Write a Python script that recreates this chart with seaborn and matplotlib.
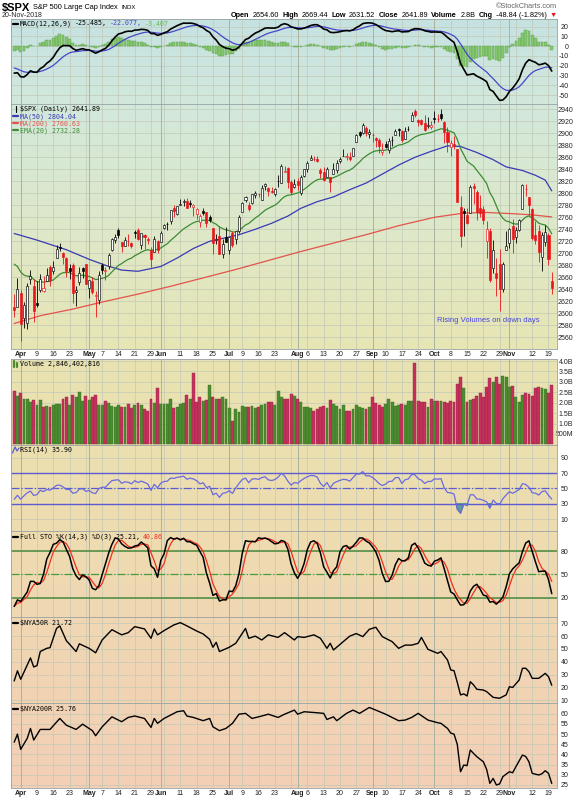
import numpy as np
import pandas as pd
import matplotlib
matplotlib.use("Agg")
import matplotlib.pyplot as plt
from matplotlib.colors import to_rgb
from matplotlib.lines import Line2D
import seaborn as sns

# ---------------- data: $SPX daily, 28-Mar-2018 .. 20-Nov-2018 ----------------
holidays = ["2018-03-30", "2018-05-28", "2018-07-04", "2018-09-03"]
days = pd.bdate_range("2018-03-28", "2018-11-20")
days = days[~days.isin(pd.to_datetime(holidays))]

opens = [
    2611.30, 2610.79,
    2633.45, 2592.17, 2584.04, 2657.36, 2645.82, 2617.18, 2638.41, 2636.92, 2653.83, 2676.90,
    2670.10, 2692.74, 2710.11, 2701.16, 2692.56, 2675.40, 2680.80, 2634.92, 2651.65, 2675.47, 2682.51,
    2642.96, 2654.24, 2628.08, 2621.45, 2680.34, 2670.26, 2678.12, 2705.02, 2722.70, 2738.47, 2718.59,
    2712.62, 2719.71, 2717.35, 2735.39, 2738.34, 2713.98, 2730.94, 2723.60, 2705.11, 2702.43, 2720.98,
    2718.70, 2741.67, 2748.46, 2753.25, 2774.84, 2765.84, 2780.18, 2785.60, 2787.94, 2783.21, 2777.78,
    2765.79, 2752.01, 2769.73, 2769.28, 2760.79, 2742.94, 2722.12, 2728.45, 2698.69, 2727.13,
    2704.95, 2733.27, 2724.19, 2737.68, 2768.51, 2788.56, 2779.82, 2783.14, 2796.93, 2798.96, 2789.34,
    2811.35, 2809.37, 2804.55, 2799.17, 2820.68, 2817.73, 2835.49, 2842.35, 2819.00, 2809.73,
    2821.17, 2800.48, 2829.62, 2840.29, 2855.92, 2856.79, 2857.19, 2838.90, 2835.46, 2827.88, 2827.95,
    2831.44, 2838.32, 2853.93, 2861.51, 2860.99, 2860.29, 2862.35, 2884.69, 2901.45, 2900.62, 2908.94, 2898.37,
    2896.96, 2891.59, 2888.64, 2868.26, 2881.39, 2871.57, 2888.29, 2896.85, 2906.38, 2903.83, 2890.74,
    2906.60, 2919.73, 2936.76, 2921.83, 2921.75, 2916.98, 2911.65, 2910.03,
    2926.29, 2923.80, 2931.69, 2919.35, 2902.54, 2877.53, 2882.51, 2873.90, 2776.87, 2770.54, 2763.83,
    2767.05, 2811.67, 2802.00, 2775.66, 2773.94, 2721.03, 2737.87, 2674.88, 2667.86, 2682.65, 2640.68, 2705.60,
    2717.58, 2745.45, 2726.37, 2738.40, 2774.13, 2806.38, 2794.10, 2773.93, 2730.05, 2737.90, 2693.52,
    2718.54, 2730.74, 2654.60,
]
highs = [
    2632.65, 2659.07,
    2638.30, 2619.14, 2649.86, 2672.08, 2656.88, 2653.55, 2665.45, 2661.36, 2674.72, 2680.26,
    2686.49, 2713.34, 2717.49, 2702.84, 2693.94, 2682.86, 2683.55, 2645.30, 2676.48, 2677.35, 2682.87,
    2655.27, 2660.87, 2637.14, 2670.93, 2683.35, 2676.34, 2701.27, 2726.11, 2732.86, 2742.10, 2718.59,
    2727.76, 2731.96, 2719.50, 2739.19, 2742.24, 2733.33, 2731.97, 2727.36, 2710.67, 2729.34, 2722.50,
    2736.93, 2749.16, 2752.61, 2772.39, 2779.90, 2779.39, 2790.21, 2789.80, 2791.47, 2789.06, 2782.81,
    2774.99, 2765.05, 2774.86, 2769.28, 2764.17, 2742.94, 2732.91, 2746.09, 2724.34, 2743.26,
    2727.26, 2736.58, 2737.83, 2764.41, 2784.65, 2795.58, 2785.91, 2799.22, 2804.53, 2801.18, 2814.19,
    2816.76, 2810.47, 2809.70, 2808.61, 2829.99, 2848.03, 2845.57, 2843.17, 2821.74, 2824.46,
    2825.83, 2829.91, 2840.38, 2853.29, 2863.43, 2862.44, 2862.48, 2842.20, 2843.40, 2843.11, 2827.95,
    2850.49, 2855.63, 2859.76, 2873.23, 2867.54, 2868.78, 2876.16, 2898.25, 2903.77, 2916.50, 2912.46, 2906.32,
    2900.18, 2894.21, 2892.05, 2883.81, 2886.93, 2892.52, 2894.65, 2906.76, 2908.30, 2904.65, 2911.17,
    2912.36, 2934.80, 2940.91, 2923.79, 2923.95, 2931.15, 2927.22, 2920.53,
    2937.06, 2931.42, 2939.86, 2919.78, 2909.64, 2889.45, 2894.83, 2874.02, 2795.14, 2775.77, 2775.99,
    2813.46, 2816.94, 2806.04, 2797.77, 2778.94, 2753.59, 2742.59, 2722.70, 2692.38, 2706.85, 2685.43, 2736.69,
    2741.67, 2756.55, 2744.27, 2756.82, 2815.15, 2814.75, 2794.10, 2775.99, 2754.60, 2746.80, 2735.38,
    2746.75, 2733.16, 2669.44,
]
lows = [
    2593.06, 2609.72,
    2553.80, 2575.49, 2573.61, 2649.58, 2586.27, 2610.79, 2635.78, 2635.30, 2653.83, 2645.05,
    2665.16, 2692.05, 2703.63, 2681.90, 2660.61, 2657.99, 2617.32, 2612.67, 2647.16, 2659.01, 2648.04,
    2625.41, 2631.70, 2594.62, 2615.32, 2664.70, 2655.20, 2674.14, 2704.54, 2717.45, 2725.47, 2701.91,
    2712.17, 2711.36, 2709.18, 2725.70, 2721.88, 2707.98, 2707.38, 2714.99, 2676.81, 2702.43, 2700.68,
    2718.70, 2740.54, 2739.51, 2748.46, 2760.16, 2763.59, 2780.17, 2778.78, 2774.65, 2776.52, 2761.73,
    2757.12, 2743.19, 2763.91, 2744.39, 2752.68, 2698.67, 2715.60, 2699.38, 2691.99, 2718.03,
    2698.95, 2711.16, 2716.02, 2733.52, 2768.51, 2786.24, 2770.77, 2781.53, 2791.69, 2793.39, 2789.24,
    2805.89, 2795.84, 2800.01, 2795.14, 2811.12, 2817.73, 2835.26, 2808.34, 2798.11, 2808.06,
    2805.85, 2796.34, 2827.37, 2835.98, 2855.92, 2853.09, 2851.98, 2825.81, 2819.88, 2826.58, 2802.49,
    2831.44, 2833.73, 2850.62, 2861.32, 2856.05, 2854.03, 2862.35, 2884.69, 2893.50, 2898.40, 2895.22, 2891.73,
    2885.13, 2876.92, 2867.29, 2864.12, 2875.94, 2866.78, 2879.20, 2896.39, 2895.77, 2886.16, 2890.43,
    2903.82, 2919.73, 2927.11, 2912.63, 2913.70, 2903.28, 2909.27, 2907.50,
    2917.91, 2919.37, 2921.36, 2883.92, 2869.29, 2862.08, 2874.27, 2784.86, 2710.51, 2729.44, 2749.03,
    2766.91, 2781.81, 2755.18, 2760.27, 2749.22, 2691.43, 2651.89, 2667.84, 2628.16, 2603.54, 2635.34, 2705.60,
    2708.85, 2700.44, 2717.94, 2737.08, 2774.13, 2794.99, 2764.24, 2722.00, 2714.98, 2685.75, 2670.75,
    2712.16, 2681.09, 2631.52,
]
closes = [
    2605.00, 2640.87,
    2581.88, 2614.45, 2644.69, 2662.84, 2604.47, 2613.16, 2656.87, 2642.19, 2663.99, 2656.30,
    2677.84, 2706.39, 2708.64, 2693.13, 2670.14, 2670.29, 2634.56, 2639.40, 2666.94, 2669.91, 2648.05,
    2654.80, 2635.67, 2629.73, 2663.42, 2672.63, 2671.92, 2697.79, 2723.07, 2727.72, 2730.13, 2711.45,
    2722.46, 2720.13, 2712.97, 2733.01, 2724.44, 2733.29, 2727.76, 2721.33, 2689.86, 2724.01, 2705.27,
    2734.62, 2746.87, 2748.80, 2772.35, 2770.37, 2779.03, 2782.00, 2786.85, 2775.63, 2782.49, 2779.66,
    2773.75, 2762.59, 2767.32, 2749.76, 2754.88, 2717.07, 2723.06, 2699.63, 2716.31, 2718.37,
    2726.71, 2713.22, 2736.61, 2759.82, 2784.17, 2793.84, 2774.02, 2798.29, 2801.31, 2798.43, 2809.55,
    2815.62, 2804.49, 2801.83, 2806.98, 2820.40, 2846.07, 2837.44, 2818.82, 2802.60, 2816.29,
    2813.36, 2827.22, 2840.35, 2850.40, 2858.45, 2857.70, 2853.58, 2833.28, 2821.93, 2839.96, 2818.37,
    2840.69, 2850.13, 2857.05, 2862.96, 2861.82, 2856.98, 2874.69, 2896.74, 2897.52, 2914.04, 2901.13, 2901.52,
    2896.72, 2888.60, 2878.05, 2871.68, 2877.13, 2887.89, 2888.92, 2904.18, 2904.98, 2888.80, 2904.31,
    2907.95, 2930.75, 2929.67, 2919.37, 2915.56, 2905.97, 2914.00, 2913.98,
    2924.59, 2923.43, 2925.51, 2901.61, 2885.57, 2884.43, 2880.34, 2785.68, 2728.37, 2767.13, 2750.79,
    2809.92, 2809.21, 2768.78, 2767.78, 2755.88, 2740.69, 2656.10, 2705.57, 2658.69, 2641.25, 2682.63, 2711.74,
    2740.37, 2723.06, 2738.31, 2755.45, 2813.89, 2806.83, 2781.01, 2726.22, 2722.18, 2701.58, 2730.20,
    2736.27, 2690.73, 2641.89,
]
# volume in billions of shares
volume_b = [
    2.56, 2.34,
    2.45, 2.20, 2.20, 2.05, 2.13, 1.89, 2.13, 1.78, 1.86, 1.81, 1.89, 1.94, 1.94, 2.20, 2.29, 1.89,
    2.37, 2.26, 2.53, 2.10, 2.32,
    2.13, 2.26, 2.37, 1.89, 1.89, 2.08, 1.97, 1.84, 1.78, 1.89, 1.81, 1.78, 1.92, 1.73, 1.89, 1.97,
    1.89, 1.68, 1.60, 2.20, 1.97, 2.69,
    1.94, 1.94, 1.94, 2.20, 1.73, 1.81, 1.94, 1.97, 2.37, 2.20, 3.41, 2.05, 2.26, 2.10, 2.13, 2.83,
    2.29, 2.20, 2.16, 2.26, 2.20,
    1.73, 1.12, 1.68, 1.57, 1.84, 1.81, 1.81, 1.84, 1.73, 1.81, 1.89, 1.94, 2.05, 2.05, 1.90, 2.56,
    2.29, 2.20, 2.16, 2.40, 2.30,
    2.20, 2.05, 1.80, 1.78, 1.75, 1.60, 1.68, 1.79, 1.84, 1.73, 2.13, 1.92, 1.84, 1.68, 1.89, 1.60,
    1.62, 1.68, 1.87, 1.78, 1.73, 1.68, 1.78,
    2.26, 2.00, 1.87, 1.81, 1.94, 2.16, 2.05, 1.84, 1.87, 1.94, 1.89, 2.08, 2.10, 3.89, 2.10, 2.03,
    2.03, 1.81, 2.19,
    2.10, 2.06, 2.10, 2.03, 2.00, 2.10, 2.05, 2.90, 3.25, 2.69, 2.05, 2.13, 2.16, 2.32, 2.45, 2.29,
    2.77, 3.17, 3.00, 3.25, 2.88, 3.28, 3.22,
    2.74, 2.80, 2.26, 2.05, 2.37, 2.48, 2.42, 2.34, 2.69, 2.74, 2.69, 2.64, 2.48, 2.85,
]

# the 13 sessions before the first bar (9..27 Mar), only as lookback for the 14-day stochastic
prior_highs = [2786.57, 2796.98, 2801.90, 2777.11, 2763.03, 2761.85, 2741.38, 2724.22, 2739.14,
               2695.68, 2657.67, 2665.28, 2674.78]
prior_lows = [2751.54, 2779.26, 2758.68, 2744.38, 2741.47, 2749.97, 2694.59, 2710.05, 2709.79,
              2641.59, 2585.89, 2601.81, 2596.12]
PRIOR_CLOSE = 2612.62
# running-average states at the left edge of the panels
EMA20_START = 2690.0
EMA12_START, EMA26_START, SIGNAL_START = 2672.0, 2696.0, -21.0
RSI_GAIN_START, RSI_LOSS_START = 12.0, 21.0

ma50_dates = ["03-28", "04-09", "04-20", "05-01", "05-08", "05-15", "05-22", "06-01", "06-08", "06-15",
              "06-22", "06-29", "07-06", "07-13", "07-20", "07-27", "08-02", "08-09", "08-16", "08-23",
              "08-30", "09-07", "09-14", "09-21", "09-28", "10-05", "10-11", "10-18", "10-25", "10-31",
              "11-07", "11-13", "11-16", "11-20"]
ma50_vals = [2733, 2722, 2706, 2690, 2680, 2672, 2670, 2678, 2692, 2708,
             2720, 2726, 2731, 2740, 2750, 2762, 2775, 2786, 2794, 2806,
             2817, 2832, 2847, 2860, 2870, 2879, 2878, 2868, 2856, 2844,
             2838, 2830, 2822, 2804.04]
ma200_dates = ["03-28", "04-10", "04-24", "05-08", "05-22", "06-06", "06-20", "07-05", "07-19", "08-02",
               "08-16", "08-30", "09-14", "10-01", "10-12", "10-23", "11-02", "11-12", "11-20"]
ma200_vals = [2583, 2596, 2607, 2620, 2632, 2645, 2659, 2673, 2688, 2703,
              2717, 2731, 2746, 2760, 2767, 2768, 2766, 2764, 2760.63]

nya50_dates = ["03-28", "03-29", "04-02", "04-05", "04-06", "04-09", "04-10", "04-12", "04-13", "04-17",
               "04-18", "04-20", "04-25", "04-26", "05-01", "05-03", "05-07", "05-10", "05-15", "05-17",
               "05-21", "05-24", "05-29", "05-30", "05-31", "06-04", "06-07", "06-11", "06-13", "06-18",
               "06-20", "06-22", "06-25", "06-26", "06-27", "07-02", "07-05", "07-10", "07-11", "07-13",
               "07-17", "07-19", "07-24", "07-26", "07-31", "08-01", "08-03", "08-08", "08-10", "08-14",
               "08-15", "08-16", "08-21", "08-23", "08-27", "08-29", "08-31", "09-05", "09-07", "09-12",
               "09-14", "09-18", "09-20", "09-24", "09-25", "09-27", "10-02", "10-03", "10-05", "10-08",
               "10-09", "10-10", "10-11", "10-12", "10-15", "10-16", "10-17", "10-18", "10-22", "10-23",
               "10-25", "10-29", "10-31", "11-01", "11-02", "11-06", "11-07", "11-08", "11-09", "11-12",
               "11-14", "11-16", "11-19", "11-20"]
nya50_vals = [25.1, 33.0, 26.4, 43.0, 36.0, 37.0, 48.0, 50.5, 51.0, 66.0,
              68.0, 56.5, 48.0, 54.0, 50.5, 47.0, 57.0, 65.0, 61.0, 62.7,
              67.4, 65.6, 58.3, 65.6, 61.0, 64.3, 68.7, 70.5, 68.0, 64.0,
              61.7, 57.5, 51.3, 55.2, 48.0, 51.3, 54.4, 66.0, 58.3, 60.0,
              57.0, 61.0, 59.0, 62.7, 57.0, 59.6, 59.0, 61.0, 58.3, 50.5,
              54.4, 49.2, 55.7, 60.0, 62.0, 59.6, 65.3, 66.9, 59.6, 55.7,
              50.5, 53.0, 53.0, 54.4, 59.0, 49.7, 46.6, 48.0, 41.4, 33.6,
              33.1, 24.0, 14.2, 15.0, 13.4, 24.5, 22.0, 18.6, 18.0, 16.8,
              12.3, 11.6, 14.2, 20.6, 20.0, 25.8, 34.9, 35.0, 32.3, 27.1,
              27.1, 31.0, 28.4, 21.72]
nya200_dates = ["03-28", "03-29", "04-02", "04-04", "04-05", "04-06", "04-10", "04-13", "04-18", "04-20",
                "04-25", "04-27", "05-02", "05-03", "05-07", "05-10", "05-15", "05-17", "05-21", "05-24",
                "05-29", "05-30", "05-31", "06-04", "06-08", "06-12", "06-13", "06-15", "06-20", "06-22",
                "06-25", "06-27", "06-29", "07-03", "07-06", "07-10", "07-12", "07-17", "07-19", "07-24",
                "07-26", "07-31", "08-01", "08-03", "08-09", "08-13", "08-14", "08-16", "08-17", "08-22",
                "08-24", "08-28", "08-31", "09-05", "09-10", "09-14", "09-18", "09-20", "09-24", "09-27",
                "10-02", "10-03", "10-05", "10-08", "10-09", "10-10", "10-11", "10-12", "10-15", "10-16",
                "10-17", "10-18", "10-22", "10-23", "10-24", "10-25", "10-26", "10-29", "10-30", "11-01",
                "11-02", "11-05", "11-07", "11-08", "11-09", "11-12", "11-14", "11-15", "11-16", "11-19",
                "11-20"]
nya200_vals = [46.0, 50.0, 42.5, 47.9, 52.8, 47.1, 52.3, 52.3, 57.7, 54.4,
               52.3, 54.9, 51.7, 49.2, 53.6, 58.5, 56.1, 58.2, 58.9, 57.7,
               53.3, 57.7, 55.3, 57.7, 61.0, 61.5, 58.9, 58.2, 56.6, 57.7,
               53.6, 51.7, 52.8, 55.3, 59.8, 60.2, 57.7, 58.9, 59.8, 58.2,
               59.8, 61.8, 59.8, 61.0, 60.5, 60.2, 57.2, 58.5, 56.6, 60.2,
               61.8, 60.2, 63.1, 61.8, 59.8, 56.6, 56.9, 58.2, 60.2, 56.9,
               55.6, 55.3, 52.8, 50.5, 50.0, 45.0, 31.5, 34.8, 34.5, 42.2,
               40.5, 38.9, 36.4, 32.7, 25.8, 28.2, 25.0, 25.5, 29.1, 31.5,
               31.0, 34.0, 39.7, 39.0, 36.4, 30.7, 29.9, 30.5, 32.0, 30.7,
               25.76]

tick_dates = ["04-02", "04-09", "04-16", "04-23", "05-01", "05-07", "05-14", "05-21", "05-29", "06-01",
              "06-11", "06-18", "06-25", "07-02", "07-09", "07-16", "07-23", "08-01", "08-06", "08-13",
              "08-20", "08-27", "09-04", "09-10", "09-17", "09-24", "10-01", "10-08", "10-15", "10-22",
              "10-29", "11-01", "11-12", "11-19"]
tick_labels = ["Apr", "9", "16", "23", "May", "7", "14", "21", "29", "Jun",
               "11", "18", "25", "Jul", "9", "16", "23", "Aug", "6", "13",
               "20", "27", "Sep", "10", "17", "24", "Oct", "8", "15", "22",
               "29", "Nov", "12", "19"]

# ---------------- indicators ----------------
pos = np.arange(len(days))
pos_of = {d.strftime("%m-%d"): i for i, d in enumerate(days)}
o, h, l, c = (np.array(v) for v in (opens, highs, lows, closes))
cs = pd.Series(c)


def seeded_ewm(series, seed, **kw):
    s = pd.concat([pd.Series([seed]), pd.Series(series)], ignore_index=True)
    return s.ewm(adjust=False, **kw).mean().iloc[1:].to_numpy()


ema20 = seeded_ewm(cs, EMA20_START, span=20)
macd = seeded_ewm(cs, EMA12_START, span=12) - seeded_ewm(cs, EMA26_START, span=26)
signal = seeded_ewm(macd, SIGNAL_START, span=9)
hist = macd - signal
diff = np.diff(np.r_[PRIOR_CLOSE, c])
gain = seeded_ewm(np.clip(diff, 0, None), RSI_GAIN_START, alpha=1 / 14)
loss = seeded_ewm(np.clip(-diff, 0, None), RSI_LOSS_START, alpha=1 / 14)
rsi = 100 - 100 / (1 + gain / loss)
hh = pd.Series(prior_highs + highs).rolling(14).max().iloc[13:].to_numpy()
ll = pd.Series(prior_lows + lows).rolling(14).min().iloc[13:].to_numpy()
k_fast = pd.Series(100 * (c - ll) / (hh - ll))
sto_k = k_fast.rolling(3, min_periods=1).mean()
sto_d = sto_k.rolling(3, min_periods=1).mean()

prev_close = np.r_[PRIOR_CLOSE, c[:-1]]
down = c < prev_close

# ---------------- figure ----------------
sns.set_theme(style="white")
plt.rcParams["font.family"] = ["Liberation Sans", "DejaVu Sans"]

W, H = 587, 800
fig = plt.figure(figsize=(W / 100, H / 100), dpi=100)
fig.patch.set_facecolor("white")
LEFT, RIGHT = 11, 556.7
XMIN, XMAX = 2 - (20.7 - LEFT) / 3.258, 2 + (RIGHT - 20.7) / 3.258
RED = "#e8141a"
GRID = "#c2c9b6"
GRID_M = "#aab3a0"
MONO = "DejaVu Sans Mono"

bg_y = [19, 104, 230, 349, 359, 445, 531, 617, 703, 788]
bg_c = ["#c5e2e2", "#d2e8dc", "#dee8c8", "#e7e5b4", "#e8e3b1", "#ebe0b0", "#eedcb0",
        "#f0d7b2", "#f2d3b4", "#f3cfb6"]
bg_rgb = np.array([to_rgb(col) for col in bg_c])

wk = days.isocalendar().week.to_numpy()
week_pos = [i for i in range(1, len(days)) if wk[i] != wk[i - 1]]
month_pos = [i for i in range(1, len(days)) if days[i].month != days[i - 1].month]


def panel(top, bottom, ylim, yticks, ylabels, label_right):
    ax = fig.add_axes([LEFT / W, 1 - bottom / H, (RIGHT - LEFT) / W, (bottom - top) / H])
    ys = np.linspace(top, bottom, 80)
    grad = np.stack([np.interp(ys, bg_y, bg_rgb[:, k]) for k in range(3)], axis=1)
    ax.imshow(grad[:, None, :], extent=(0, 1, 0, 1), transform=ax.transAxes,
              aspect="auto", zorder=0, interpolation="bilinear")
    for y in yticks:
        ax.axhline(y, color=GRID, lw=0.5, zorder=1)
    for p in week_pos:
        ax.axvline(p, color=GRID, lw=0.5, zorder=1)
    for p in month_pos:
        ax.axvline(p, color=GRID_M, lw=0.7, zorder=1)
    ax.set_yticks(yticks)
    ax.set_yticklabels(ylabels)
    ax.yaxis.tick_right()
    ax.tick_params(axis="y", length=0, pad=(label_right - RIGHT) * 0.72, labelsize=5, colors="#222222")
    for t in ax.get_yticklabels():
        t.set_ha("right")
    ax.set_xticks([])
    for s in ax.spines.values():
        s.set_color("#98a2a2")
        s.set_linewidth(0.6)
    ax._lims = ylim
    return ax


def finish(ax):
    ax.set_xlim(XMIN, XMAX)
    ax.set_ylim(*ax._lims)
    ax.set_xlabel("")
    ax.set_ylabel("")


def date_axis(ax):
    ax.set_xticks([pos_of[d] for d in tick_dates])
    ax.set_xticklabels(tick_labels)
    ax.tick_params(axis="x", length=0, pad=1.2, labelsize=5, colors="#222222")
    for t in ax.get_xticklabels():
        if t.get_text().isalpha():
            t.set_fontweight("bold")


def line(ax, x, y, color, lw):
    sns.lineplot(x=x, y=y, ax=ax, color=color, linewidth=lw, legend=False, errorbar=None,
                 sort=False, zorder=3)


# MACD
ax_m = panel(19, 104, (-59.2, 27.9), list(range(-50, 30, 10)),
             [str(v) for v in range(-50, 30, 10)], 568.5)
ax_m.bar(pos, hist, width=0.85, color="#86c872", edgecolor="#5c9e4a", linewidth=0.3, zorder=2)
line(ax_m, pos, signal, "#4646c8", 0.9)
line(ax_m, pos, macd, "black", 1.2)
finish(ax_m)

# price
p_ticks = list(range(2560, 2960, 20))
ax_p = panel(104, 349, (2540.5, 2948.8), p_ticks, [str(v) for v in p_ticks], 573.3)
line(ax_p, [pos_of[d] for d in ma200_dates], ma200_vals, "#e2534c", 0.9)
line(ax_p, [pos_of[d] for d in ma50_dates], ma50_vals, "#3a3ab4", 0.9)
line(ax_p, pos, ema20, "#3c8c32", 0.9)
edge = np.where(down, RED, "black")
face = np.where(c >= o, "white", edge)
ax_p.vlines(pos, l, h, colors=edge, linewidth=0.6, zorder=4)
ax_p.bar(pos, np.maximum(np.abs(c - o), 0.8), bottom=np.minimum(o, c), width=0.62,
         color=face, edgecolor=edge, linewidth=0.45, zorder=5)
finish(ax_p)
date_axis(ax_p)

# volume
v_ticks = [0.5, 1.0, 1.5, 2.0, 2.5, 3.0, 3.5, 4.0]
ax_v = panel(359, 445, (-0.03, 4.1), v_ticks,
             ["500M", "1.0B", "1.5B", "2.0B", "2.5B", "3.0B", "3.5B", "4.0B"], 573.3)
ax_v.bar(pos, volume_b, width=0.88, color=np.where(down, "#c4325c", "#4c8c30"),
         edgecolor=np.where(down, "#9a2244", "#3a6e24"), linewidth=0.3, zorder=2)
finish(ax_v)

# RSI
ax_r = panel(445, 531, (-5.6, 106.5), [10, 30, 50, 70, 90], ["10", "30", "50", "70", "90"], 568.5)
ax_r.fill_between(pos, rsi, 30, where=rsi < 30, interpolate=True, color="#5f9c8c", zorder=2)
ax_r.axhline(70, color="#5c5cd0", lw=1.0, zorder=2)
ax_r.axhline(30, color="#5c5cd0", lw=1.0, zorder=2)
ax_r.axhline(50, color="#5c5cd0", lw=0.9, ls="-.", zorder=2)
line(ax_r, pos, rsi, "#6a6ae0", 0.9)
finish(ax_r)

# Full stochastics
ax_s = panel(531, 617, (-4.8, 105.7), [20, 50, 80], ["20", "50", "80"], 568.5)
ax_s.axhline(80, color="#4a8a3a", lw=1.1, zorder=2)
ax_s.axhline(20, color="#4a8a3a", lw=1.1, zorder=2)
ax_s.axhline(50, color="#4a9a3a", lw=0.9, ls="-.", zorder=2)
line(ax_s, pos, sto_d.to_numpy(), "#f03020", 0.9)
line(ax_s, pos, sto_k.to_numpy(), "black", 1.1)
finish(ax_s)

# $NYA50R
n50_ticks = list(range(10, 80, 10))
ax_n1 = panel(617, 703, (7.9, 74.9), n50_ticks, [str(v) for v in n50_ticks], 568.5)
line(ax_n1, [pos_of[d] for d in nya50_dates], nya50_vals, "black", 1.0)
finish(ax_n1)

# $NYA200R
n200_ticks = list(range(25, 65, 5))
ax_n2 = panel(703, 788, (23.5, 65.3), n200_ticks, [str(v) for v in n200_ticks], 568.5)
line(ax_n2, [pos_of[d] for d in nya200_dates], nya200_vals, "black", 1.0)
finish(ax_n2)
date_axis(ax_n2)

# ---------------- texts ----------------
renderer = fig.canvas.get_renderer()


def text_row(x, y, parts, size, family, ha="left", gap=None):
    items = []
    for s, col, wt, sz in [(p + (size,))[:4] for p in parts]:
        t = fig.text(0, 1 - y / H, s, color=col, fontsize=sz, family=family,
                     fontweight=wt, va="center")
        items.append((t, t.get_window_extent(renderer).width))
    g = gap if gap is not None else size * 1.39 * 0.45
    total = sum(w for _, w in items) + g * (len(items) - 1)
    cur = x - total if ha == "right" else x
    for t, w in items:
        t.set_x(cur / W)
        cur += w + g


def icon(y, color, lw=1.6):
    fig.add_artist(Line2D([12.5 / W, 18.5 / W], [1 - y / H] * 2, color=color, lw=lw))


SANS = ["Liberation Sans", "DejaVu Sans"]
text_row(2, 7.5, [("$SPX", "black", "bold", 8), ("S&P 500 Large Cap Index", "black", "normal", 5.3),
                  ("INDX", "black", "normal", 4.3)], 5.3, SANS, gap=3)
fig.text(2 / W, 1 - 15.5 / H, "20-Nov-2018", fontsize=5, va="center")
fig.text(557 / W, 1 - 6 / H, "\u00a9StockCharts.com", fontsize=5.3, color="#666666",
         ha="right", va="center")
text_row(557, 15.5, [("Open", "black", "bold"), ("2654.60", "black", "normal"),
                     ("High", "black", "bold"), ("2669.44", "black", "normal"),
                     ("Low", "black", "bold"), ("2631.52", "black", "normal"),
                     ("Close", "black", "bold"), ("2641.89", "black", "normal"),
                     ("Volume", "black", "bold"), ("2.8B", "black", "normal"),
                     ("Chg", "black", "bold"), ("-48.84 (-1.82%)", "black", "normal"),
                     ("\u25bc", RED, "normal")], 5.2, SANS, ha="right")

icon(23.5, "black")
text_row(20, 23.5, [("MACD(12,26,9)", "black", "normal"), ("-25.485,", "black", "normal"),
                    ("-22.077,", "#4646c8", "normal"), ("-3.407", "#6cb85a", "normal")], 4.8, MONO)

text_row(20, 109, [("$SPX (Daily) 2641.89", "black", "normal")], 4.8, MONO)
fig.add_artist(Line2D([15.5 / W] * 2, [1 - 106 / H, 1 - 112 / H], color="black", lw=0.8))
icon(116.3, "#3a3ab4")
text_row(20, 116.3, [("MA(50) 2804.04", "#3a3ab4", "normal")], 4.8, MONO)
icon(123.3, "#e2534c")
text_row(20, 123.3, [("MA(200) 2760.63", "#e2534c", "normal")], 4.8, MONO)
icon(130.3, "#3c8c32")
text_row(20, 130.3, [("EMA(20) 2732.28", "#3c8c32", "normal")], 4.8, MONO)

fig.text(488 / W, 1 - 321 / H, "Rising Volumes on down days", fontsize=5.5, color="#4646e0",
         ha="center", va="center")

fig.add_artist(Line2D([14.5 / W] * 2, [1 - 361 / H, 1 - 367 / H], color="#4c8c30", lw=1.6))
fig.add_artist(Line2D([17 / W] * 2, [1 - 363 / H, 1 - 367 / H], color="#4c8c30", lw=1.6))
text_row(20, 364, [("Volume 2,846,402,816", "black", "normal")], 4.8, MONO)

fig.add_artist(Line2D([12.5 / W, 15 / W, 17 / W, 19 / W],
                      [1 - 453 / H, 1 - 447 / H, 1 - 451 / H, 1 - 448 / H], color="#5c5cd0", lw=0.9))
text_row(20, 450, [("RSI(14) 35.90", "black", "normal")], 4.8, MONO)

icon(537, "black")
text_row(20, 537, [("Full STO %K(14,3) %D(3) 25.21,", "black", "normal"),
                   ("40.86", "#f03020", "normal")], 4.8, MONO)

icon(622.5, "black")
text_row(20, 622.5, [("$NYA50R 21.72", "black", "normal")], 4.8, MONO)
icon(708.5, "black")
text_row(20, 708.5, [("$NYA200R 25.76", "black", "normal")], 4.8, MONO)

fig.savefig("out.png", dpi=100, facecolor="white")
